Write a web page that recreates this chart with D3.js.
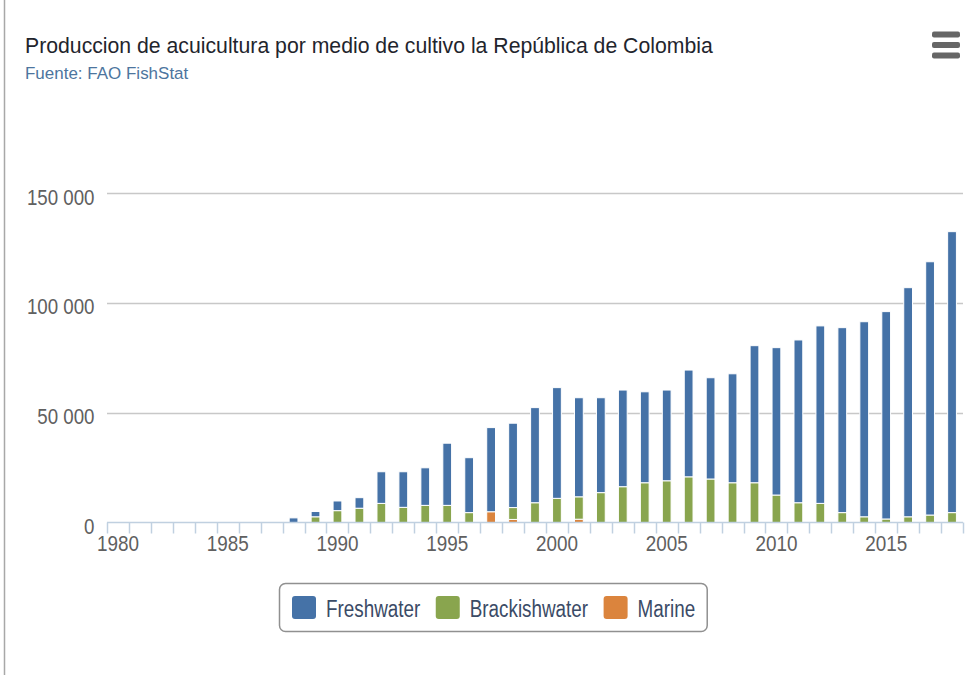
<!DOCTYPE html>
<html>
<head>
<meta charset="utf-8">
<script src="https://cdn.jsdelivr.net/npm/d3@7"></script>
<style>
  body { margin: 0; background: #fff; }
  svg { display: block; font-family: "Liberation Sans", Arial, sans-serif; }
</style>
</head>
<body>
<svg id="chart" width="971" height="675"></svg>
<script>
const years = [1980, 1981, 1982, 1983, 1984, 1985, 1986, 1987, 1988, 1989,
  1990, 1991, 1992, 1993, 1994, 1995, 1996, 1997, 1998, 1999,
  2000, 2001, 2002, 2003, 2004, 2005, 2006, 2007, 2008, 2009,
  2010, 2011, 2012, 2013, 2014, 2015, 2016, 2017, 2018];

const freshwater = [0, 0, 0, 0, 0, 0, 0, 0, 2100, 2400,
  4400, 4800, 14400, 16200, 17100, 28300, 25000, 38300, 38400, 43300,
  50400, 45100, 43200, 44000, 41400, 41300, 48600, 46100, 49600, 62400,
  67100, 74100, 80800, 84200, 88800, 94400, 104300, 115300, 127900];

const brackishwater = [0, 0, 0, 0, 0, 0, 0, 0, 0, 2600,
  5400, 6500, 8700, 6900, 7800, 7800, 4500, 0, 5400, 9000,
  11000, 10200, 13600, 16300, 18100, 19000, 20800, 19800, 18100, 18100,
  12500, 9000, 8700, 4500, 2600, 1600, 2600, 3400, 4500];

const marine = [0, 0, 0, 0, 0, 0, 0, 0, 0, 0,
  0, 0, 0, 0, 0, 0, 0, 4900, 1400, 0,
  0, 1500, 0, 0, 0, 0, 0, 0, 0, 0,
  0, 0, 0, 0, 0, 0, 0, 0, 0];

const seriesNames = ["Freshwater", "Brackishwater", "Marine"];
const seriesColors = ["#4572A7", "#89A54E", "#DB843D"];
const yTicks = [0, 50000, 100000, 150000];

const titleText = "Produccion de acuicultura por medio de cultivo la República de Colombia";
const subtitleText = "Fuente: FAO FishStat";

// table for d3.stack, bottom series first (marine at the base)
const rows = years.map((yr, i) => ({
  year: yr,
  Freshwater: freshwater[i],
  Brackishwater: brackishwater[i],
  Marine: marine[i]
}));

const svg = d3.select("#chart");

const plot = { left: 107, right: 963, top: 193, bottom: 522.5 };

const x = d3.scaleBand().domain(years).range([plot.left, plot.right]);
const y = d3.scaleLinear().domain([0, 150000]).range([plot.bottom, plot.top]);

const fmt = d3.formatLocale({ decimal: ".", thousands: " ", grouping: [3], currency: ["", ""] }).format(",");

// text drawn slightly squeezed to match the reference's narrow lettering
const addText = (parent, str, px, py, size, sx, anchor, color) =>
  parent.append("text")
    .attr("transform", `translate(${px},${py}) scale(${sx},1)`)
    .attr("text-anchor", anchor)
    .attr("font-size", size)
    .attr("fill", color)
    .text(str);

// left border of the frame
svg.append("line")
  .attr("x1", 4.5).attr("x2", 4.5)
  .attr("y1", 0).attr("y2", 675)
  .attr("stroke", "#a8a8a8")
  .attr("stroke-width", 1.5);

// title + subtitle
addText(svg, titleText, 25, 53, 22, 0.965, "start", "#1f252d");
addText(svg, subtitleText, 25, 79, 16.5, 1.03, "start", "#4d759e");

// menu icon
svg.append("g")
  .selectAll("rect")
  .data([0, 1, 2])
  .join("rect")
  .attr("x", 932)
  .attr("y", (d) => 31.5 + d * 10.5)
  .attr("width", 28)
  .attr("height", 6)
  .attr("rx", 2)
  .attr("fill", "#666");

// gridlines
svg.append("g")
  .selectAll("line")
  .data(yTicks.filter((d) => d > 0))
  .join("line")
  .attr("x1", plot.left)
  .attr("x2", plot.right)
  .attr("y1", (d) => Math.round(y(d)) + 0.5)
  .attr("y2", (d) => Math.round(y(d)) + 0.5)
  .attr("stroke", "#c8c8c8")
  .attr("stroke-width", 1.5);

// y labels
const yLab = svg.append("g");
yTicks.forEach((t) => {
  addText(yLab, fmt(t), 94.5, y(t) + 11.5, 22, 0.85, "end", "#606060");
});

// stacked columns
const stack = d3.stack().keys(["Marine", "Brackishwater", "Freshwater"]);
const layers = stack(rows);
const barW = x.bandwidth() * 0.4;

svg.append("g")
  .selectAll("g")
  .data(layers)
  .join("g")
  .attr("fill", (d) => seriesColors[seriesNames.indexOf(d.key)])
  .selectAll("rect")
  .data((d) => d.filter((p) => p[1] - p[0] > 0))
  .join("rect")
  .attr("x", (d) => x(d.data.year) + (x.bandwidth() - barW) / 2)
  .attr("y", (d) => y(d[1]))
  .attr("width", barW)
  .attr("height", (d) => y(d[0]) - y(d[1]))
  .attr("stroke", "#fff")
  .attr("stroke-width", 1);

// x axis line + ticks between categories
const xAxis = svg.append("g");
xAxis.append("line")
  .attr("x1", plot.left).attr("x2", plot.right)
  .attr("y1", plot.bottom).attr("y2", plot.bottom)
  .attr("stroke", "#C0D0E0")
  .attr("stroke-width", 1.5);

xAxis.selectAll("line.tick")
  .data(years.concat([null]))
  .join("line")
  .attr("class", "tick")
  .attr("x1", (d, i) => Math.round(plot.left + i * x.step()) + 0.5)
  .attr("x2", (d, i) => Math.round(plot.left + i * x.step()) + 0.5)
  .attr("y1", plot.bottom)
  .attr("y2", plot.bottom + 11)
  .attr("stroke", "#C0D0E0")
  .attr("stroke-width", 1.5);

years.filter((yr) => yr % 5 === 0).forEach((yr) => {
  addText(xAxis, yr, x(yr) + x.bandwidth() / 2, 551, 22.5, 0.84, "middle", "#606060");
});

// legend
const legend = svg.append("g");
const box = legend.append("rect")
  .attr("x", 279.5).attr("y", 583.5)
  .attr("height", 48)
  .attr("rx", 6)
  .attr("fill", "#fff")
  .attr("stroke", "#909090")
  .attr("stroke-width", 1.5);

let lx = 292;
seriesNames.forEach((name, i) => {
  legend.append("rect")
    .attr("x", lx).attr("y", 596)
    .attr("width", 24).attr("height", 23)
    .attr("rx", 3)
    .attr("fill", seriesColors[i]);
  const t = addText(legend, name, lx + 34, 616.5, 23, 0.82, "start", "#3b4b66");
  const w = t.node().getComputedTextLength() * 0.82;
  lx += 34 + w + 15.5;
});
box.attr("width", lx - 15.5 + 12 - 279.5);
</script>
</body>
</html>
